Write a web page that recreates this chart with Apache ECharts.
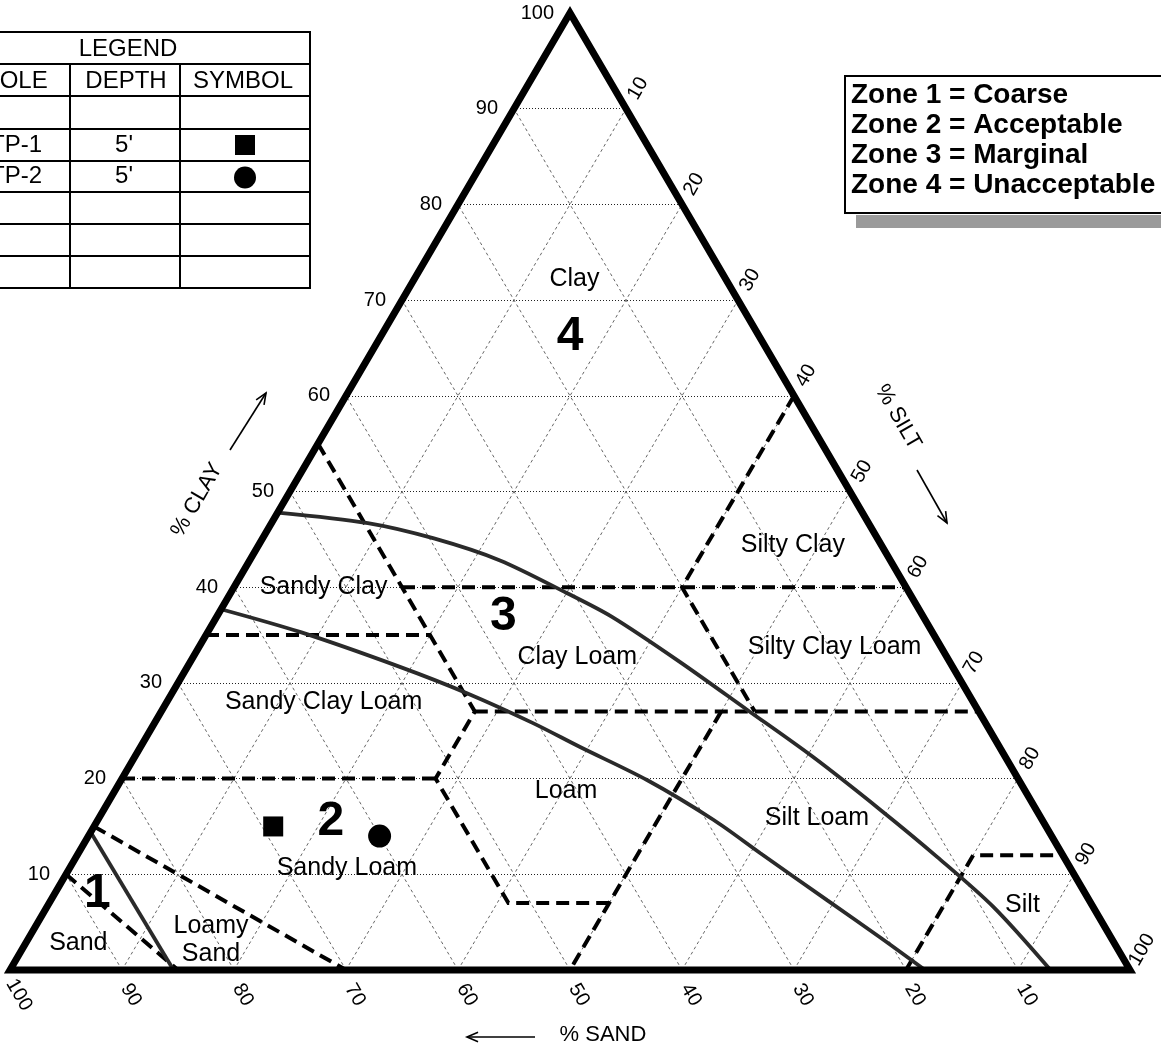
<!DOCTYPE html>
<html>
<head>
<meta charset="utf-8">
<script src="https://cdn.jsdelivr.net/npm/echarts@6/dist/echarts.min.js"></script>
<style>
html, body { margin: 0; padding: 0; background: #fff; }
#chart { width: 1161px; height: 1049px; }
</style>
</head>
<body>
<div id="chart"></div>
<script>
// every point is [sand %, clay %], silt is the rest
const gridSteps = [10, 20, 30, 40, 50, 60, 70, 80, 90];
const tickValues = [10, 20, 30, 40, 50, 60, 70, 80, 90, 100];
const tickLabels = ['10', '20', '30', '40', '50', '60', '70', '80', '90', '100'];

// USDA texture class boundaries (dashed)
const textureBoundaries = [
  [[45, 55], [45, 27], [52, 20], [52, 7], [43, 7]],
  [[45, 40], [0, 40]],
  [[0, 60], [20, 40], [20, 27]],
  [[65, 35], [45, 35]],
  [[45, 27], [0, 27]],
  [[80, 20], [52, 20]],
  [[23, 27], [50, 0]],
  [[20, 0], [8, 12], [0, 12]],
  [[85, 15], [70, 0]],
  [[90, 10], [85, 0]]
];

// zone limits (solid)
const zone12Line = [[85.6, 14.6], [85.4, 0]];
const zone23Curve = [[62.3, 37.7], [56.4, 35.3], [49.4, 31.7], [44.7, 28.9], [40.4, 25.8], [37.45, 23.3],
  [33.2, 19.85], [29.35, 15.7], [26.9, 12.2], [23.4, 7.3], [20.6, 3.4], [18.3, 0]];
const zone34Curve = [[52.2, 47.8], [44.7, 46.7], [39.6, 45.1], [34.85, 42.8], [30.6, 39.4], [27.8, 36.9],
  [24.1, 32.2], [20.6, 27.2], [17.2, 22.3], [13.9, 16.7], [11.3, 11.8], [8.9, 6.6], [7.1, 0]];

const classNames = ['Clay', 'Silty Clay', 'Sandy Clay', 'Clay Loam', 'Silty Clay Loam', 'Sandy Clay Loam',
  'Loam', 'Silt Loam', 'Sandy Loam', 'Loamy\nSand', 'Sand', 'Silt'];
const classLabelAt = [[13.5, 72.2], [7.9, 44.4], [52, 40], [33, 32.7], [9.5, 33.75], [58, 28],
  [41, 18.7], [20, 15.9], [64.6, 10.65], [80.5, 3.1], [92.5, 2.8], [6.2, 6.8]];
const zoneNumbers = ['1', '2', '3', '4'];
const zoneNumberAt = [[88.2, 8], [63.6, 15.5], [37.5, 36.9], [16.9, 66.2]];

// test pits
const sampleHoles = ['TP-1', 'TP-2'];
const sampleDepths = ["5'", "5'"];
const sampleSymbols = ['rect', 'circle'];
const sampleSand = [69, 60];
const sampleClay = [15, 14];

const zoneKey = ['Zone 1 = Coarse', 'Zone 2 = Acceptable', 'Zone 3 = Marginal', 'Zone 4 = Unacceptable'];

const FONT = '"Liberation Sans", Arial, Helvetica, sans-serif';

function toXY(p) { return [100 - p[0] - p[1] / 2, p[1]]; }

// grid lines
const horiz = gridSteps.map(l => ({ coords: [toXY([100 - l, l]), toXY([0, l])] }));
const diag = [];
gridSteps.forEach(l => {
  diag.push({ coords: [toXY([l, 0]), toXY([l, 100 - l])] });      // sand
  diag.push({ coords: [toXY([100 - l, 0]), toXY([0, 100 - l])] }); // silt
});

const outline = [toXY([50, 0]), toXY([0, 0]), toXY([0, 100]), toXY([100, 0]), toXY([50, 0])];

function labelSeries(data, label, extra) {
  return Object.assign({
    type: 'scatter', symbolSize: 0, clip: false, z: 10, silent: true,
    itemStyle: { color: 'rgba(0,0,0,0)', opacity: 1 },
    label: Object.assign({ show: true, position: 'inside', formatter: '{b}', color: '#000', opacity: 1, fontFamily: FONT }, label),
    data: data
  }, extra || {});
}

const clayTicks = tickValues.map((v, i) => ({ name: tickLabels[i], value: toXY([100 - v, v]) }));
const sandTicks = tickValues.map((v, i) => {
  const p = toXY([v, 0]);
  return { name: tickLabels[i], value: [p[0] + 0.8, p[1] - 2.6] };
});
const siltTicks = tickValues.map((v, i) => {
  const p = toXY([0, 100 - v]);
  return { name: tickLabels[i], value: [p[0] + 1.07, p[1] + 2.1] };
});

function curveSeries(pts) {
  return { type: 'line', data: pts.map(toXY), smooth: 0.3, symbol: 'none', clip: false, z: 5, silent: true,
    lineStyle: { color: '#2a2a2a', width: 3.8, opacity: 1 } };
}

function arrow(x1, y1, x2, y2) {
  const a = Math.atan2(y2 - y1, x2 - x1), L = 12, h = 0.4;
  return [
    { type: 'polyline', shape: { points: [[x1, y1], [x2, y2]] }, style: { stroke: '#000', lineWidth: 1.6, fill: null } },
    { type: 'polyline', shape: { points: [
      [x2 - L * Math.cos(a - h), y2 - L * Math.sin(a - h)], [x2, y2],
      [x2 - L * Math.cos(a + h), y2 - L * Math.sin(a + h)]] },
      style: { stroke: '#000', lineWidth: 1.6, fill: null } }
  ];
}

function txt(str, x, y, size, opts) {
  return Object.assign({
    type: 'text', x: x, y: y, silent: true,
    style: { text: str, font: (opts && opts.weight ? opts.weight + ' ' : '') + size + 'px ' + FONT,
      fill: '#000', align: 'center', verticalAlign: 'middle', textAlign: 'center', textVerticalAlign: 'middle' }
  }, opts && opts.el ? opts.el : {});
}

// legend table (left, partly off the page)
const graphics = [];
const rowY = [32, 64, 96, 129, 161, 192, 224, 256, 288];
rowY.forEach(y => graphics.push({ type: 'line', shape: { x1: -50, y1: y, x2: 310, y2: y }, style: { stroke: '#000', lineWidth: 2 } }));
graphics.push({ type: 'line', shape: { x1: 310, y1: 31, x2: 310, y2: 289 }, style: { stroke: '#000', lineWidth: 2 } });
[70, 180].forEach(x => graphics.push({ type: 'line', shape: { x1: x, y1: 64, x2: x, y2: 288 }, style: { stroke: '#000', lineWidth: 2 } }));
graphics.push(txt('LEGEND', 128, 49, 24));
graphics.push(txt('HOLE', 15, 81, 24));
graphics.push(txt('DEPTH', 126, 81, 24));
graphics.push(txt('SYMBOL', 243, 81, 24));
sampleHoles.forEach((h, i) => {
  const cy = (rowY[i + 3] + rowY[i + 4]) / 2;
  graphics.push(txt(h, 16, cy, 24));
  graphics.push(txt(sampleDepths[i], 124, cy, 24));
  if (sampleSymbols[i] === 'rect') {
    graphics.push({ type: 'rect', shape: { x: 235, y: cy - 10, width: 20, height: 20 }, style: { fill: '#000' } });
  } else {
    graphics.push({ type: 'circle', shape: { cx: 245, cy: cy + 1, r: 11 }, style: { fill: '#000' } });
  }
});

// zone key box
graphics.push({ type: 'rect', shape: { x: 856, y: 215, width: 320, height: 13 }, style: { fill: '#9a9a9a' } });
graphics.push({ type: 'rect', shape: { x: 845, y: 76, width: 330, height: 137 }, style: { fill: '#fff', stroke: '#000', lineWidth: 2 } });
zoneKey.forEach((t, i) => {
  graphics.push({ type: 'text', x: 851, y: 95 + i * 30, silent: true,
    style: { text: t, font: 'bold 28px ' + FONT, fill: '#000', align: 'left', verticalAlign: 'middle', textAlign: 'left', textVerticalAlign: 'middle' } });
});

// axis titles
graphics.push(txt('% CLAY', 197, 500, 22, { el: { rotation: Math.PI / 3 } }));
graphics.push(txt('% SILT', 898, 417, 22, { el: { rotation: -Math.PI / 3 } }));
graphics.push(txt('% SAND', 603, 1035, 22));
graphics.push(...arrow(230, 450, 266, 393));
graphics.push(...arrow(917, 470, 947, 523));
graphics.push(...arrow(535, 1037, 467, 1037));

const option = {
  animation: false,
  backgroundColor: '#fff',
  grid: { left: 10, top: 13, width: 1120, height: 957 },
  xAxis: { type: 'value', min: 0, max: 100, show: false },
  yAxis: { type: 'value', min: 0, max: 100, show: false },
  graphic: graphics,
  series: [
    { type: 'lines', coordinateSystem: 'cartesian2d', clip: false, z: 1, silent: true, data: horiz,
      lineStyle: { color: '#222', width: 1, type: [1, 2], opacity: 1 } },
    { type: 'lines', coordinateSystem: 'cartesian2d', clip: false, z: 1, silent: true, data: diag,
      lineStyle: { color: '#555', width: 0.9, type: [3, 3], opacity: 1 } },
    { type: 'lines', coordinateSystem: 'cartesian2d', polyline: true, clip: false, z: 3, silent: true,
      data: textureBoundaries.map(path => ({ coords: path.map(toXY) })),
      lineStyle: { color: '#000', width: 4, type: [13, 7], opacity: 1 } },
    curveSeries(zone12Line),
    curveSeries(zone23Curve),
    curveSeries(zone34Curve),
    { type: 'lines', coordinateSystem: 'cartesian2d', polyline: true, clip: false, z: 8, silent: true,
      data: [{ coords: outline }],
      lineStyle: { color: '#000', width: 7, opacity: 1, join: 'miter', miterLimit: 10 } },
    labelSeries(clayTicks, { position: 'left', distance: 16, fontSize: 20 }),
    labelSeries(sandTicks, { rotate: -60, fontSize: 20 }),
    labelSeries(siltTicks, { rotate: 60, fontSize: 20 }),
    labelSeries(classNames.map((n, i) => ({ name: n, value: toXY(classLabelAt[i]) })), { fontSize: 25, lineHeight: 28 }),
    labelSeries(zoneNumbers.map((n, i) => ({ name: n, value: toXY(zoneNumberAt[i]) })), { fontSize: 48, fontWeight: 'bold' }),
    { type: 'scatter', clip: false, z: 12, silent: true,
      data: sampleHoles.map((h, i) => ({ name: h, value: toXY([sampleSand[i], sampleClay[i]]),
        symbol: sampleSymbols[i], symbolSize: sampleSymbols[i] === 'rect' ? 20 : 23 })),
      itemStyle: { color: '#000', opacity: 1 } }
  ]
};

echarts.init(document.getElementById('chart')).setOption(option);
</script>
</body>
</html>
